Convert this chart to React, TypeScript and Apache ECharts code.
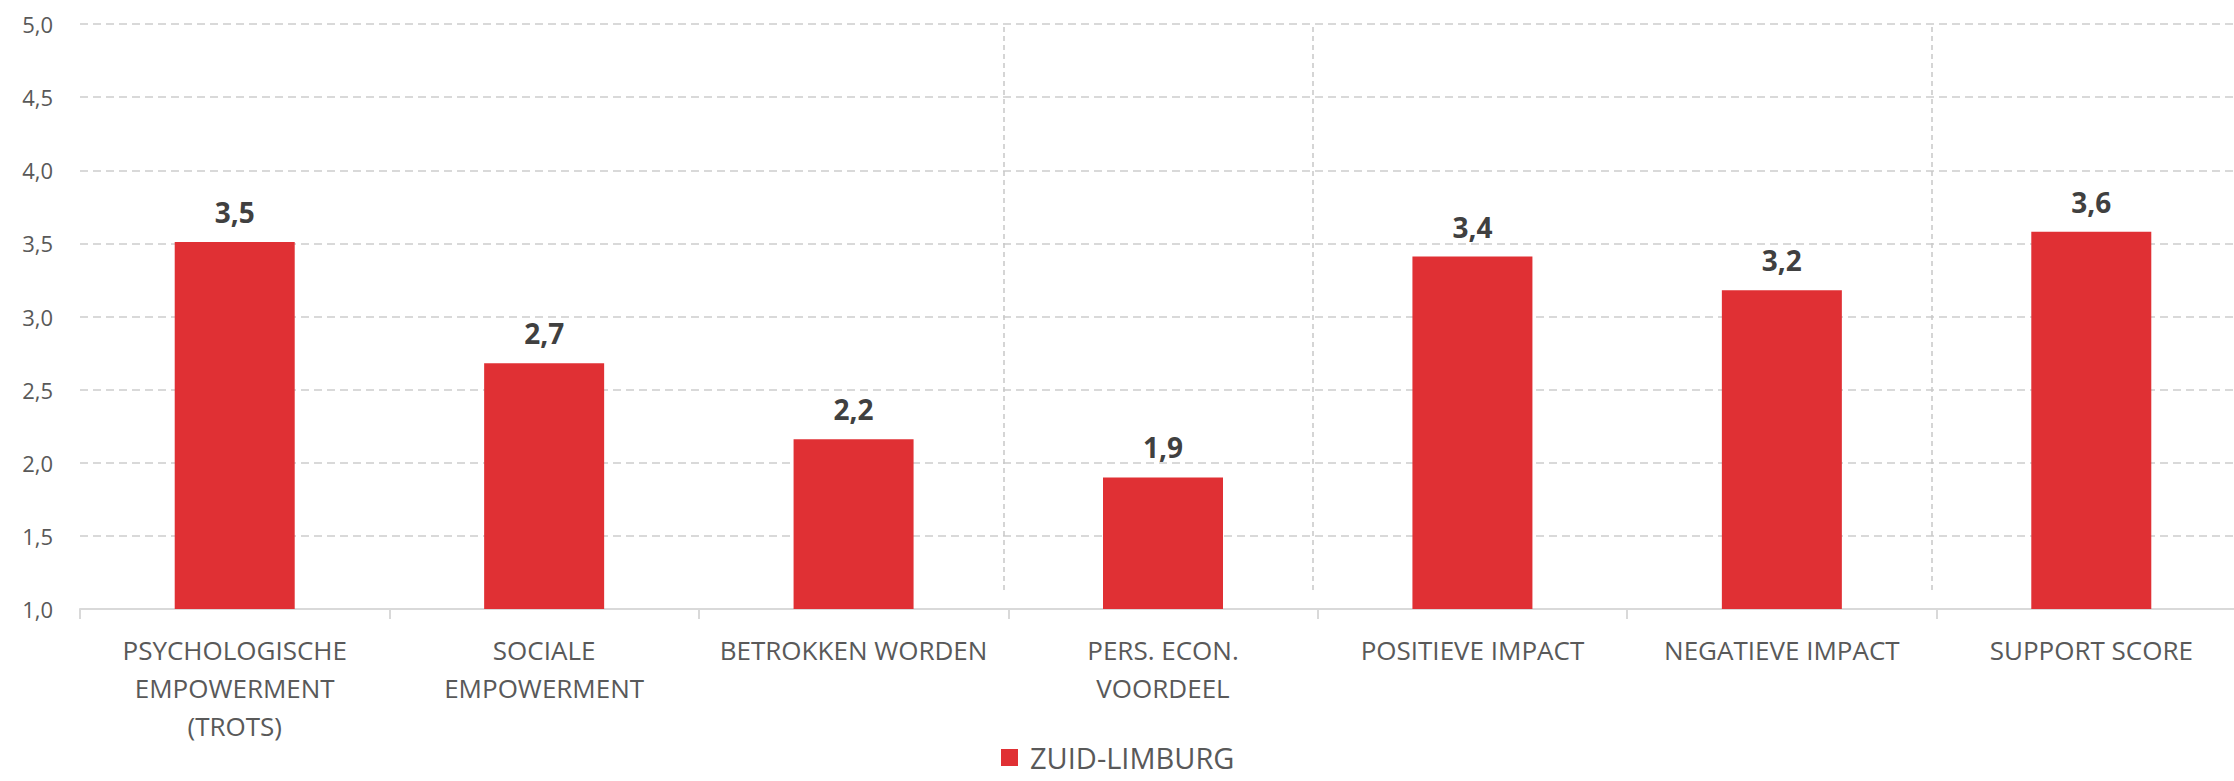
import React, { useEffect, useRef } from "react";
import * as echarts from "echarts";

const categories: string[] = [
  "PSYCHOLOGISCHE\nEMPOWERMENT\n(TROTS)",
  "SOCIALE\nEMPOWERMENT",
  "BETROKKEN WORDEN",
  "PERS. ECON.\nVOORDEEL",
  "POSITIEVE IMPACT",
  "NEGATIEVE IMPACT",
  "SUPPORT SCORE",
];
const seriesName = "ZUID-LIMBURG";
const values: number[] = [3.51, 2.68, 2.16, 1.9, 3.41, 3.18, 3.58];
const separatorPositions: number[] = [2.985, 3.985, 5.985];
const yMin = 1;
const yMax = 5;
const yInterval = 0.5;

const fmt = (v: number) => v.toFixed(1).replace(".", ",");
const FONT = "'Open Sans', sans-serif";

export default function App() {
  const ref = useRef<HTMLDivElement>(null);
  useEffect(() => {
    if (!ref.current) return;
    const chart = echarts.init(ref.current, undefined, { renderer: "svg" });
    chart.setOption({
      animation: false,
      backgroundColor: "#ffffff",
      textStyle: { fontFamily: FONT },
      grid: {
        left: 80,
        right: -12,
        top: 24,
        bottom: 172,
        containLabel: false,
        outerBoundsMode: "none",
      },
      legend: {
        data: [seriesName],
        left: 996,
        top: 738,
        icon: "rect",
        itemWidth: 17,
        itemHeight: 17,
        selectedMode: false,
        textStyle: {
          color: "#595959",
          fontSize: 29,
          lineHeight: 29,
          fontFamily: FONT,
          padding: [0, 0, 0, 7],
        },
      },
      xAxis: [
        {
          type: "category",
          data: categories,
          boundaryGap: true,
          axisLine: { show: true, lineStyle: { color: "#d9d9d9", width: 2 } },
          axisTick: {
            show: true,
            length: 10,
            lineStyle: { color: "#d9d9d9", width: 2 },
          },
          axisLabel: {
            color: "#595959",
            fontSize: 26,
            lineHeight: 38,
            margin: 22,
            fontFamily: FONT,
            interval: 0,
          },
          splitLine: { show: false },
        },
        {
          type: "value",
          min: 0,
          max: 7,
          show: false,
        },
      ],
      yAxis: {
        type: "value",
        min: yMin,
        max: yMax,
        interval: yInterval,
        axisLine: { show: false },
        axisTick: { show: false },
        axisLabel: {
          color: "#595959",
          fontSize: 22,
          margin: 27,
          fontFamily: FONT,
          formatter: (v: number) => fmt(v),
        },
        splitLine: {
          show: true,
          lineStyle: { color: "#d9d9d9", width: 2, type: [8, 5] },
        },
      },
      series: [
        {
          name: seriesName,
          type: "bar",
          xAxisIndex: 0,
          yAxisIndex: 0,
          data: values,
          barWidth: 120,
          itemStyle: { color: "#E03034" },
          label: {
            show: true,
            position: "top",
            distance: 16,
            color: "#404040",
            fontWeight: "bold",
            fontSize: 28,
            fontFamily: FONT,
            formatter: (p: any) => fmt(p.value),
          },
        },
        {
          name: "separators",
          type: "line",
          xAxisIndex: 1,
          yAxisIndex: 0,
          data: [],
          silent: true,
          markLine: {
            silent: true,
            symbol: "none",
            label: { show: false },
            lineStyle: { color: "#c8c8c8", width: 1.5, type: [5, 4] },
            data: separatorPositions.map((x) => [
              { coord: [x, 1.13] },
              { coord: [x, 5] },
            ]),
          },
        },
      ],
    });
    return () => chart.dispose();
  }, []);
  return (
    <div
      ref={ref}
      style={{ position: "absolute", left: 0, top: 0, width: 2234, height: 781 }}
    />
  );
}
